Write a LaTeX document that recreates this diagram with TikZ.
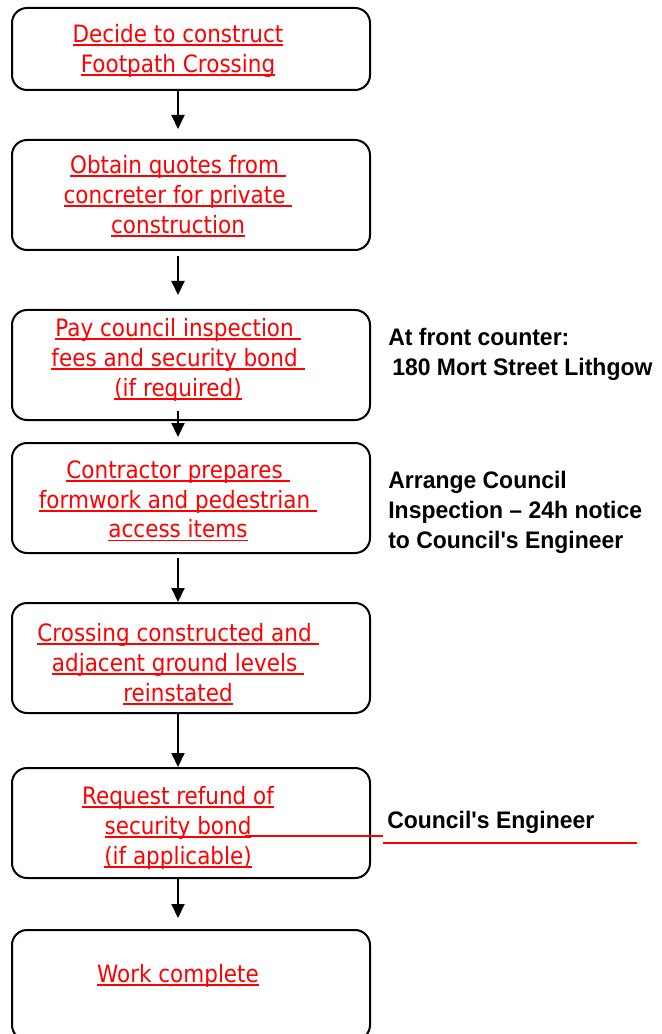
\documentclass[tikz,border=0pt]{standalone}
\usepackage{fontspec}
\usepackage{tikz}
\usetikzlibrary{arrows.meta}
\newfontfamily\stepfont[FakeStretch=0.9]{DejaVu Sans}
\newfontfamily\notefont[FakeStretch=0.96]{Liberation Sans}
\definecolor{stepred}{RGB}{255,0,0}
\newsavebox{\ulbox}
\newcommand{\ulred}[1]{\sbox{\ulbox}{#1}\rlap{\rule[-0.07cm]{\wd\ulbox}{0.035cm}}\usebox{\ulbox}}

\begin{document}
\begin{tikzpicture}[
    box/.style={rectangle, rounded corners=0.3cm, minimum width=7.16cm, minimum height=2.2cm, line width=0.04cm, draw=black},
    steplabel/.style={font=\stepfont\fontsize{13.6}{17}\selectfont, text=stepred, align=center, inner sep=0pt},
    sidenote/.style={font=\notefont\bfseries\fontsize{13.6}{17}\selectfont, align=left, anchor=west, inner sep=0pt},
    arrow/.style={-{Triangle[length=0.28cm, width=0.26cm]}, line width=0.04cm},
    redrule/.style={stepred, line width=0.035cm}
]
    \useasboundingbox (0,0) rectangle (13.22,-20.68);

    % === BOXES ===
    \node[box, minimum height=1.64cm] (step1) at (3.82,-0.98) {};
    \node[box] (step2) at (3.82,-3.9) {};
    \node[box] (step3) at (3.82,-7.3) {};
    \node[box] (step4) at (3.82,-9.96) {};
    \node[box] (step5) at (3.82,-13.16) {};
    \node[box] (step6) at (3.82,-16.46) {};
    \node[box] (step7) at (3.82,-19.7) {};

    % === TEXTS ===
    \node[steplabel] (txt1) at (3.56,-1.02) {\ulred{Decide to construct}\\\ulred{Footpath Crossing}};
    \node[steplabel] (txt2) at (3.56,-3.92) {\ulred{Obtain quotes from\ }\\\ulred{concreter for private\ }\\\ulred{construction}};
    \node[steplabel] (txt3) at (3.56,-7.2) {\ulred{Pay council inspection\ }\\\ulred{fees and security bond\ }\\\ulred{(if required)}};
    \node[steplabel] (txt4) at (3.56,-10.02) {\ulred{Contractor prepares\ }\\\ulred{formwork and pedestrian\ }\\\ulred{access items}};
    \node[steplabel] (txt5) at (3.56,-13.28) {\ulred{Crossing constructed and\ }\\\ulred{adjacent ground levels\ }\\\ulred{reinstated}};
    \node[steplabel] (txt6) at (3.56,-16.56) {\ulred{Request refund of}\\\ulred{security bond}\\\ulred{(if applicable)}};
    \node[steplabel] (txt7) at (3.56,-19.52) {\ulred{Work complete}};

    % === ARROWS ===
    \draw[arrow, shorten >=0.2cm] ([xshift=-0.26cm]step1.south) -- ([xshift=-0.26cm]step2.north);
    \draw[arrow, shorten <=0.1cm, shorten >=0.28cm] ([xshift=-0.26cm]step2.south) -- ([xshift=-0.26cm]step3.north);
    \draw[arrow, shorten <=-0.2cm, shorten >=0.1cm] ([xshift=-0.26cm]step3.south) -- ([xshift=-0.26cm]step4.north);
    \draw[arrow, shorten <=0.08cm] ([xshift=-0.26cm]step4.south) -- ([xshift=-0.26cm]step5.north);
    \draw[arrow] ([xshift=-0.26cm]step5.south) -- ([xshift=-0.26cm]step6.north);
    \draw[arrow, shorten >=0.22cm] ([xshift=-0.26cm]step6.south) -- ([xshift=-0.26cm]step7.north);

    % === NOTES ===
    \node[sidenote] (note1) at (7.76,-7.08) {At front counter:\\\hspace{0.08cm}180 Mort Street Lithgow};
    \node[sidenote] (note2) at (7.76,-10.24) {Arrange Council\\Inspection – 24h notice\\to Council's Engineer};
    \node[sidenote] (note3) at (7.74,-16.44) {Council's Engineer};

    % red rules by the refund step
    \coordinate (rule1a) at (4.9,-16.72);
    \coordinate (rule1b) at (7.66,-16.72);
    \coordinate (rule2a) at (7.66,-16.86);
    \coordinate (rule2b) at (12.74,-16.86);
    \draw[redrule] (rule1a) -- (rule1b);
    \draw[redrule] (rule2a) -- (rule2b);
\end{tikzpicture}
\end{document}
